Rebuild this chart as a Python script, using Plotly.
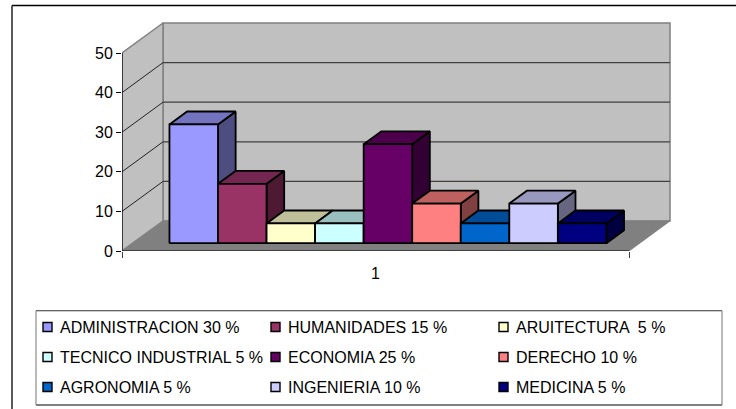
import plotly.graph_objects as go

# Categories, values and colours of the clustered column chart
categories = ["ADMINISTRACION", "HUMANIDADES", "ARUITECTURA", "TECNICO INDUSTRIAL", "ECONOMIA",
              "DERECHO", "AGRONOMIA", "INGENIERIA", "MEDICINA"]
values = [30, 15, 5, 5, 25, 10, 5, 10, 5]
legend_labels = ["ADMINISTRACION 30 %", "HUMANIDADES 15 %", "ARUITECTURA  5 %",
                 "TECNICO INDUSTRIAL 5 %", "ECONOMIA 25 %", "DERECHO 10 %",
                 "AGRONOMIA 5 %", "INGENIERIA 10 %", "MEDICINA 5 %"]
front_colors = ["#9999FF", "#993366", "#FFFFCC", "#CCFFFF", "#660066",
                "#FF8080", "#0066CC", "#CCCCFF", "#000080"]
top_colors = ["#7373BF", "#732650", "#BFBF99", "#99BFBF", "#4C004C",
              "#BF6060", "#004C99", "#9999BF", "#000060"]
side_colors = ["#4D4D80", "#4D1933", "#808066", "#668080", "#330033",
               "#804040", "#003366", "#666680", "#000040"]
y_ticks = [0, 10, 20, 30, 40, 50]
x_category = "1"

W, H = 736, 409
# Plot frame in pixels and the size of one slot / one percent point
LEFT, BOTTOM, RIGHT, TOP = 122, 251, 680, 15
SLOT_PX, UNIT_PX = 48.55, 3.96
FRONT_END = (629 - LEFT) / SLOT_PX

# Oblique projection: depth 0 is the front of the floor, depth 1 the back wall
SHIFT_X, SHIFT_Y = 41 / SLOT_PX, 30 / UNIT_PX
BAR_D0, BAR_D1 = 0.26, 0.69
GAP = 0.758


def proj(x, y, d):
    return x + d * SHIFT_X, y + d * SHIFT_Y


def face(points, fill, line="#000000", width=1.8):
    xs, ys = zip(*[proj(*p) for p in points])
    return go.Scatter(x=list(xs) + [xs[0]], y=list(ys) + [ys[0]], mode="lines", fill="toself",
                      fillcolor=fill, line=dict(color=line, width=width),
                      hoverinfo="skip", showlegend=False)


def edge(points, color, width):
    xs, ys = zip(*[proj(*p) for p in points])
    return go.Scatter(x=list(xs), y=list(ys), mode="lines", line=dict(color=color, width=width),
                      hoverinfo="skip", showlegend=False)


fig = go.Figure()
top_v = y_ticks[-1]

# Walls and floor
wall_edge = "#808080"
fig.add_trace(face([(0, 0, 1), (FRONT_END, 0, 1), (FRONT_END, top_v, 1), (0, top_v, 1)], "#C0C0C0", wall_edge, 1.5))
fig.add_trace(face([(0, 0, 0), (0, 0, 1), (0, top_v, 1), (0, top_v, 0)], "#C0C0C0", wall_edge, 1.5))
fig.add_trace(face([(0, 0, 0), (FRONT_END, 0, 0), (FRONT_END, 0, 1), (0, 0, 1)], "#808080", "#808080", 1))

# Gridlines along the side wall and back wall
for tick in y_ticks[1:-1]:
    fig.add_trace(edge([(0, tick, 0), (0, tick, 1)], "#222222", 1))
    fig.add_trace(edge([(0, tick, 1), (FRONT_END, tick, 1)], "#404040", 1.3))

# Columns, left to right so each one overlaps the side of the previous
for i, (name, v) in enumerate(zip(categories, values)):
    x0, x1 = GAP + i, GAP + i + 1
    fig.add_trace(face([(x1, 0, BAR_D0), (x1, 0, BAR_D1), (x1, v, BAR_D1), (x1, v, BAR_D0)], side_colors[i]))
    fig.add_trace(face([(x0, v, BAR_D0), (x1, v, BAR_D0), (x1, v, BAR_D1), (x0, v, BAR_D1)], top_colors[i]))
    front = face([(x0, 0, BAR_D0), (x1, 0, BAR_D0), (x1, v, BAR_D0), (x0, v, BAR_D0)], front_colors[i])
    front.name = name
    fig.add_trace(front)

# Axis lines stop at the front edge of the floor and at the top tick
fig.add_trace(edge([(0, 0, 0), (0, top_v, 0)], "#000000", 1.2))
fig.add_trace(edge([(0, 0, 0), (FRONT_END, 0, 0)], "#000000", 1.2))


def paper_x(px):
    return (px - LEFT) / (RIGHT - LEFT)


def paper_y(py):
    return (BOTTOM - py) / (BOTTOM - TOP)


def rect(x0, y0, x1, y1, line, width=1, fill=None):
    return dict(type="rect", xref="paper", yref="paper", x0=paper_x(x0), x1=paper_x(x1),
                y0=paper_y(y0), y1=paper_y(y1), line=dict(color=line, width=width),
                fillcolor=fill or "rgba(0,0,0,0)", layer="above")


def seg(x0, y0, x1, y1, color, width):
    return dict(type="line", xref="paper", yref="paper", x0=paper_x(x0), x1=paper_x(x1),
                y0=paper_y(y0), y1=paper_y(y1), line=dict(color=color, width=width))


# Chart frame, then the legend box with its swatches and labels
shapes = [
    seg(12, 5.5, W, 5.5, "#000000", 1.4),
    seg(12, 5.5, 12, H, "#303030", 1.6),
    seg(36, 310.7, 722, 310.7, "#303030", 1.1),
    seg(36, 405, 722, 405, "#000000", 1.1),
    seg(36, 310.7, 36, 405, "#808080", 1.1),
    seg(722, 310.7, 722, 405, "#808080", 1.1),
]
annotations = []
col_x = [42, 270, 498]
row_y = [327, 357, 387]
for i, label in enumerate(legend_labels):
    cx, cy = col_x[i % 3], row_y[i // 3]
    shapes.append(rect(cx + 1, cy - 4.5, cx + 10, cy + 4.5, "#000000", 1.4, front_colors[i]))
    annotations.append(dict(xref="paper", yref="paper", x=paper_x(cx + 16), y=paper_y(cy),
                            xanchor="left", yanchor="middle", text=label, showarrow=False,
                            xshift=0, font=dict(family="Liberation Sans, Arial", size=16, color="#000000")))

fig.update_layout(
    width=W, height=H, autosize=False,
    margin=dict(l=LEFT, r=W - RIGHT, t=TOP, b=H - BOTTOM, pad=0),
    paper_bgcolor="#FFFFFF", plot_bgcolor="#FFFFFF",
    font=dict(family="Liberation Sans, Arial", size=16, color="#000000"),
    shapes=shapes, annotations=annotations, showlegend=False,
    xaxis=dict(range=[0, (RIGHT - LEFT) / SLOT_PX], showgrid=False, zeroline=False, showline=False,
               tickmode="array", tickvals=[FRONT_END / 2], ticktext=[x_category], ticks="",
               ticklabelstandoff=11,
               minor=dict(tickmode="array", tickvals=[0, FRONT_END], ticks="outside",
                          ticklen=6, tickcolor="#404040", tickwidth=1, showgrid=False)),
    yaxis=dict(range=[0, (BOTTOM - TOP) / UNIT_PX], showgrid=False, zeroline=False, showline=False,
               tickmode="array", tickvals=y_ticks, ticktext=[str(t) for t in y_ticks],
               ticks="outside", ticklen=5, tickcolor="#000000", tickwidth=1.2),
)

fig.write_html("out.html", config=dict(displayModeBar=False))
